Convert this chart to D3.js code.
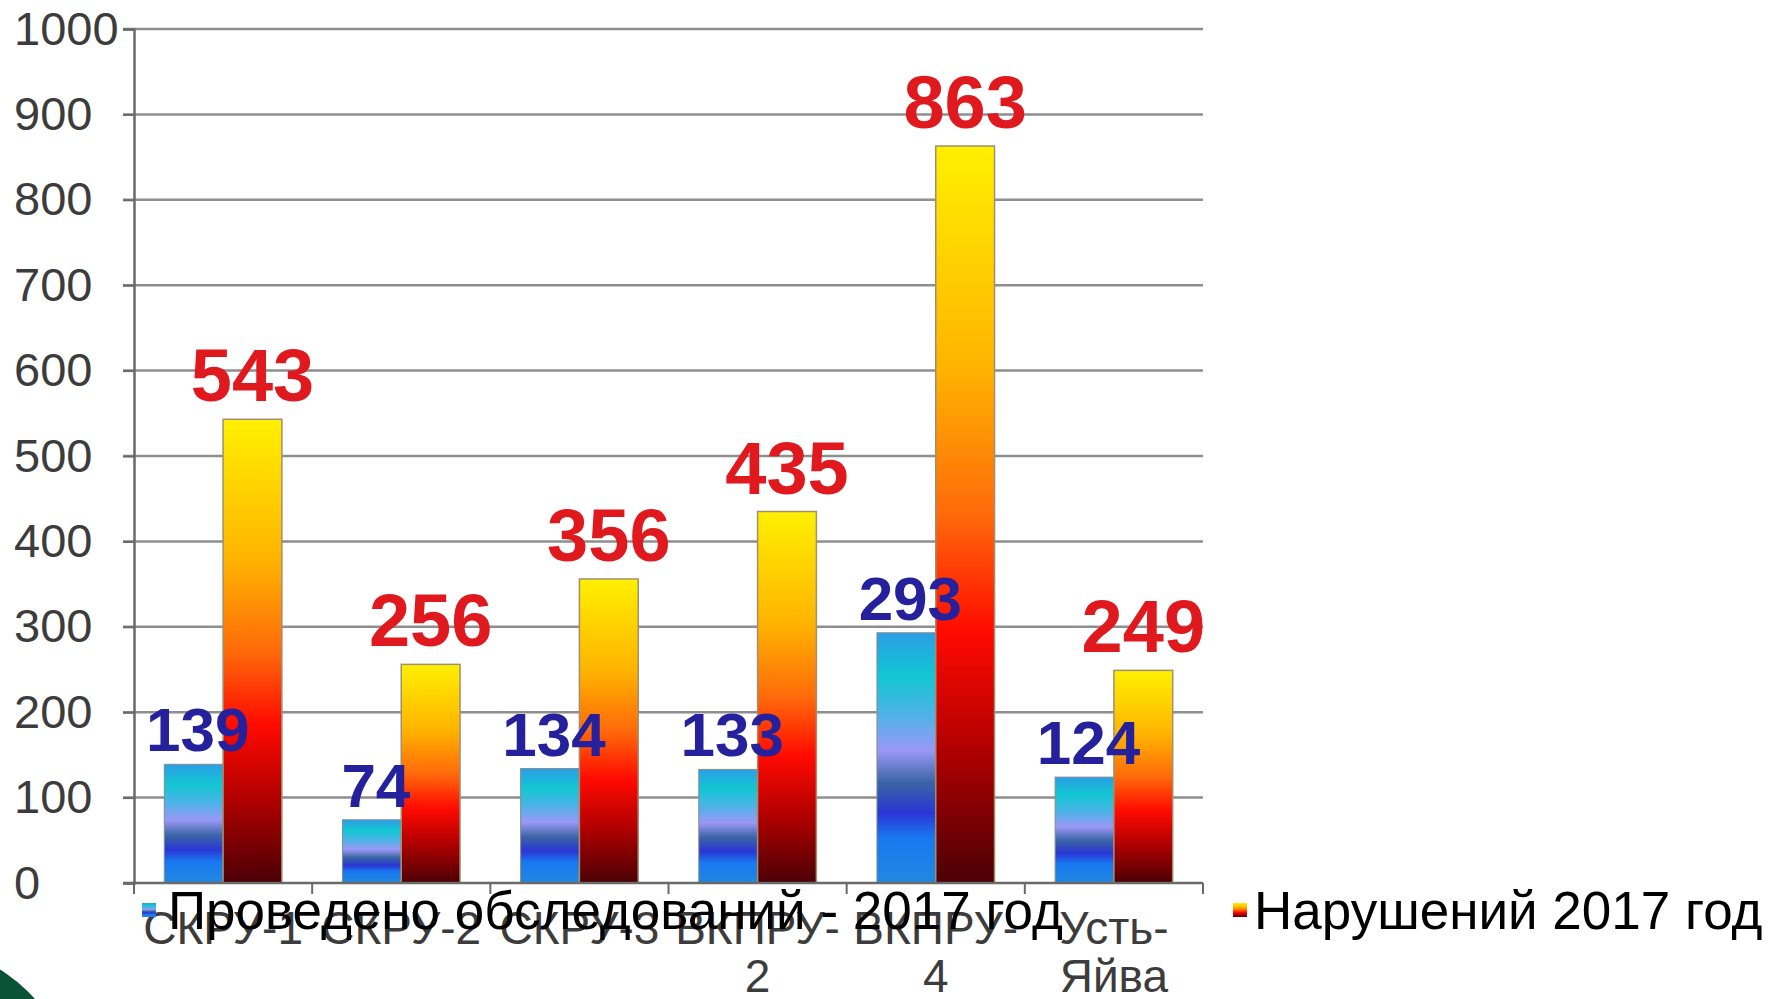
<!DOCTYPE html>
<html>
<head>
<meta charset="utf-8">
<script src="https://cdn.jsdelivr.net/npm/d3@7"></script>
<style>
  html, body { margin: 0; padding: 0; background: #fff; }
  svg { display: block; font-family: "Liberation Sans", Arial, sans-serif; }
</style>
</head>
<body>
<svg id="chart" width="1777" height="999"></svg>
<script>
// chart values
var categories = ["СКРУ-1", "СКРУ-2", "СКРУ-3", "ВКПРУ-2", "ВКПРУ-4", "Усть-Яйва"];
var surveys    = [139, 74, 134, 133, 293, 124];
var violations = [543, 256, 356, 435, 863, 249];
var seriesNames = ["Проведено обследований - 2017 год", "Нарушений 2017 год"];
var yTicks = [0, 100, 200, 300, 400, 500, 600, 700, 800, 900, 1000];

var svg = d3.select("#chart");
var margin = {top: 29, left: 134, right: 574, bottom: 116};
var width = 1777 - margin.left - margin.right,
    height = 999 - margin.top - margin.bottom;

// gradients
var defs = svg.append("defs");
var gOrange = defs.append("linearGradient").attr("id", "gOrange")
    .attr("x1", 0).attr("y1", 0).attr("x2", 0).attr("y2", 1);
[[0, "#fff000"], [0.3, "#ffb400"], [0.5, "#ff6a0a"], [0.66, "#ff0a00"], [0.82, "#b00000"], [1, "#4a0006"]]
    .forEach(function(s) { gOrange.append("stop").attr("offset", s[0]).attr("stop-color", s[1]); });
var gBlue = defs.append("linearGradient").attr("id", "gBlue")
    .attr("x1", 0).attr("y1", 0).attr("x2", 0).attr("y2", 1);
[[0, "#2a9ee6"], [0.17, "#12c6d2"], [0.33, "#4fb2e8"], [0.47, "#9a98f6"], [0.6, "#3a64a4"], [0.72, "#2a36d6"], [0.82, "#1878f0"], [1, "#2288e0"]]
    .forEach(function(s) { gBlue.append("stop").attr("offset", s[0]).attr("stop-color", s[1]); });

// green corner decoration
svg.append("circle").attr("cx", -80).attr("cy", 1100).attr("r", 153).attr("fill", "#0b5338");

var g = svg.append("g").attr("transform", "translate(" + margin.left + "," + margin.top + ")");

var x = d3.scaleBand().domain(categories).range([0, width]).paddingInner(0.34).paddingOuter(0.17);
var x1 = d3.scaleBand().domain([0, 1]).range([0, x.bandwidth()]);
var y = d3.scaleLinear().domain([0, 1000]).range([height, 0]);
var step = x.step();

// gridlines
g.append("g").selectAll("line").data(yTicks.slice(1)).enter().append("line")
    .attr("x1", -11).attr("x2", width)
    .attr("y1", function(d) { return y(d); }).attr("y2", function(d) { return y(d); })
    .attr("stroke", "#8e8e8e").attr("stroke-width", 2.5);

// y axis, labels left-aligned as in the original
var yAxis = g.append("g").call(d3.axisLeft(y).tickValues(yTicks).tickSize(11).tickFormat(d3.format("d")));
yAxis.select(".domain").attr("stroke", "#6a6a6a").attr("stroke-width", 2.5);
yAxis.selectAll(".tick line").attr("stroke", "#6a6a6a").attr("stroke-width", 2);
yAxis.selectAll("text").attr("font-size", 47).attr("fill", "#3c3c3c")
    .attr("font-family", "Liberation Sans, Arial, sans-serif")
    .attr("text-anchor", "start").attr("x", 14 - margin.left);

// bars
var groups = g.append("g").selectAll("g").data(categories).enter().append("g")
    .attr("transform", function(d) { return "translate(" + x(d) + ",0)"; });

groups.append("rect")
    .attr("x", x1(0)).attr("width", x1.bandwidth())
    .attr("y", function(d, i) { return y(surveys[i]); })
    .attr("height", function(d, i) { return height - y(surveys[i]); })
    .attr("fill", "url(#gBlue)").attr("stroke", "#8a8a8a").attr("stroke-width", 1);

groups.append("rect")
    .attr("x", x1(1)).attr("width", x1.bandwidth())
    .attr("y", function(d, i) { return y(violations[i]); })
    .attr("height", function(d, i) { return height - y(violations[i]); })
    .attr("fill", "url(#gOrange)").attr("stroke", "#a09070").attr("stroke-width", 1.5);

// x axis
g.append("line").attr("x1", -11).attr("x2", width).attr("y1", height).attr("y2", height)
    .attr("stroke", "#6a6a6a").attr("stroke-width", 2.5);
g.append("g").selectAll("line").data(d3.range(categories.length + 1)).enter().append("line")
    .attr("x1", function(d) { return d * step; }).attr("x2", function(d) { return d * step; })
    .attr("y1", height).attr("y2", height + 11)
    .attr("stroke", "#6a6a6a").attr("stroke-width", 2);

// category labels, wrapped after the hyphen if too wide
var catLabels = g.append("g").selectAll("text").data(categories).enter().append("text")
    .attr("x", function(d) { return x(d) + x.bandwidth() / 2; })
    .attr("y", height + 61)
    .attr("text-anchor", "middle").attr("font-size", 46).attr("fill", "#3c3c3c")
    .text(function(d) { return d; });
catLabels.each(function(d) {
    var t = d3.select(this);
    if (this.getComputedTextLength() > step && d.indexOf("-") > 0) {
        var k = d.indexOf("-") + 1, cx = t.attr("x");
        t.text(null);
        t.append("tspan").attr("x", cx).text(d.slice(0, k));
        t.append("tspan").attr("x", cx).attr("dy", 48).text(d.slice(k));
    }
});

// value labels
groups.append("text")
    .attr("x", x1(0) + x1.bandwidth() / 2 + 4)
    .attr("y", function(d, i) { return y(surveys[i]) - 13; })
    .attr("text-anchor", "middle").attr("font-size", 62).attr("font-weight", "bold")
    .attr("fill", "#25209c")
    .text(function(d, i) { return surveys[i]; });

groups.append("text")
    .attr("x", x1(1) + x1.bandwidth() / 2)
    .attr("y", function(d, i) { return y(violations[i]) - 18; })
    .attr("text-anchor", "middle").attr("font-size", 74).attr("font-weight", "bold")
    .attr("fill", "#e0191e")
    .text(function(d, i) { return violations[i]; });

// legend
var legend = svg.append("g");
var legendItems = [
    {name: seriesNames[0], fill: "url(#gBlue)", sx: 142, tx: 168},
    {name: seriesNames[1], fill: "url(#gOrange)", sx: 1233, tx: 1254}
];
legendItems.forEach(function(it) {
    legend.append("rect").attr("x", it.sx).attr("y", 903).attr("width", 14).attr("height", 14)
        .attr("fill", it.fill);
    legend.append("text").attr("x", it.tx).attr("y", 929).attr("font-size", 53)
        .attr("fill", "#000").text(it.name);
});
</script>
</body>
</html>
